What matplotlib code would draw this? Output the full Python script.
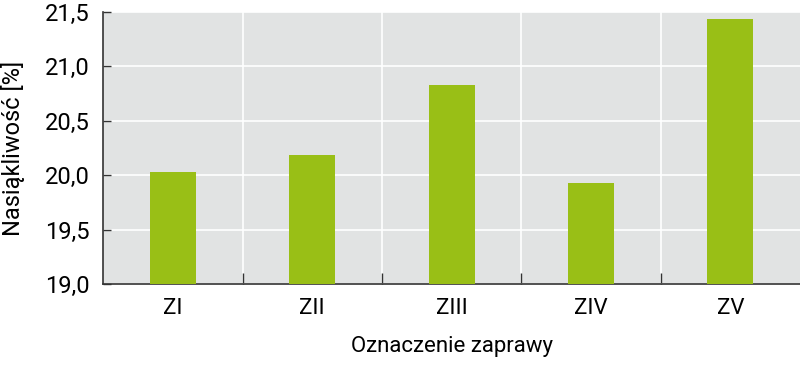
import numpy as np
import matplotlib.pyplot as plt
from matplotlib.ticker import FuncFormatter, FixedLocator

categories = ['ZI', 'ZII', 'ZIII', 'ZIV', 'ZV']
values = [20.03, 20.19, 20.83, 19.93, 21.44]
yticks = [19.0, 19.5, 20.0, 20.5, 21.0, 21.5]

plt.rcParams['font.family'] = ['Roboto', 'DejaVu Sans']

fig = plt.figure(figsize=(8, 3.65), dpi=100)
ax = fig.add_axes([0.129, 0.222, 0.871, 0.745])
ax.set_facecolor('#e1e3e3')

x = np.arange(len(categories))
ax.bar(x, [v - 19.0 for v in values], bottom=19.0, width=0.33,
       color='#99bf16', zorder=3)

ax.set_xlim(-0.5, len(categories) - 0.5)
ax.set_ylim(19.0, 21.5)
ax.set_yticks(yticks)
ax.yaxis.set_major_formatter(FuncFormatter(lambda v, p: f'{v:.1f}'.replace('.', ',')))
ax.set_xticks(x)
ax.set_xticklabels(categories)
ax.xaxis.set_minor_locator(FixedLocator(np.arange(0.5, len(categories) - 1, 1)))

ax.grid(axis='y', color='white', linewidth=1.2, zorder=1)
ax.grid(axis='x', which='minor', color='white', linewidth=1.2, zorder=1)
ax.set_axisbelow(True)

ax.tick_params(axis='y', direction='in', length=6, width=1, color='#333333',
               labelsize=17, pad=10)
ax.tick_params(axis='x', which='major', length=0, labelsize=16, pad=10)
ax.tick_params(axis='x', which='minor', direction='in', length=8, width=1, color='#333333')

for s in ['top', 'right']:
    ax.spines[s].set_visible(False)
for s in ['left', 'bottom']:
    ax.spines[s].set_color('#333333')
    ax.spines[s].set_linewidth(1.2)

ax.set_ylabel('Nasiąkliwość [%]', fontsize=17, labelpad=14)
ax.set_xlabel('Oznaczenie zaprawy', fontsize=16, labelpad=12)

fig.savefig('out.png', dpi=100)
